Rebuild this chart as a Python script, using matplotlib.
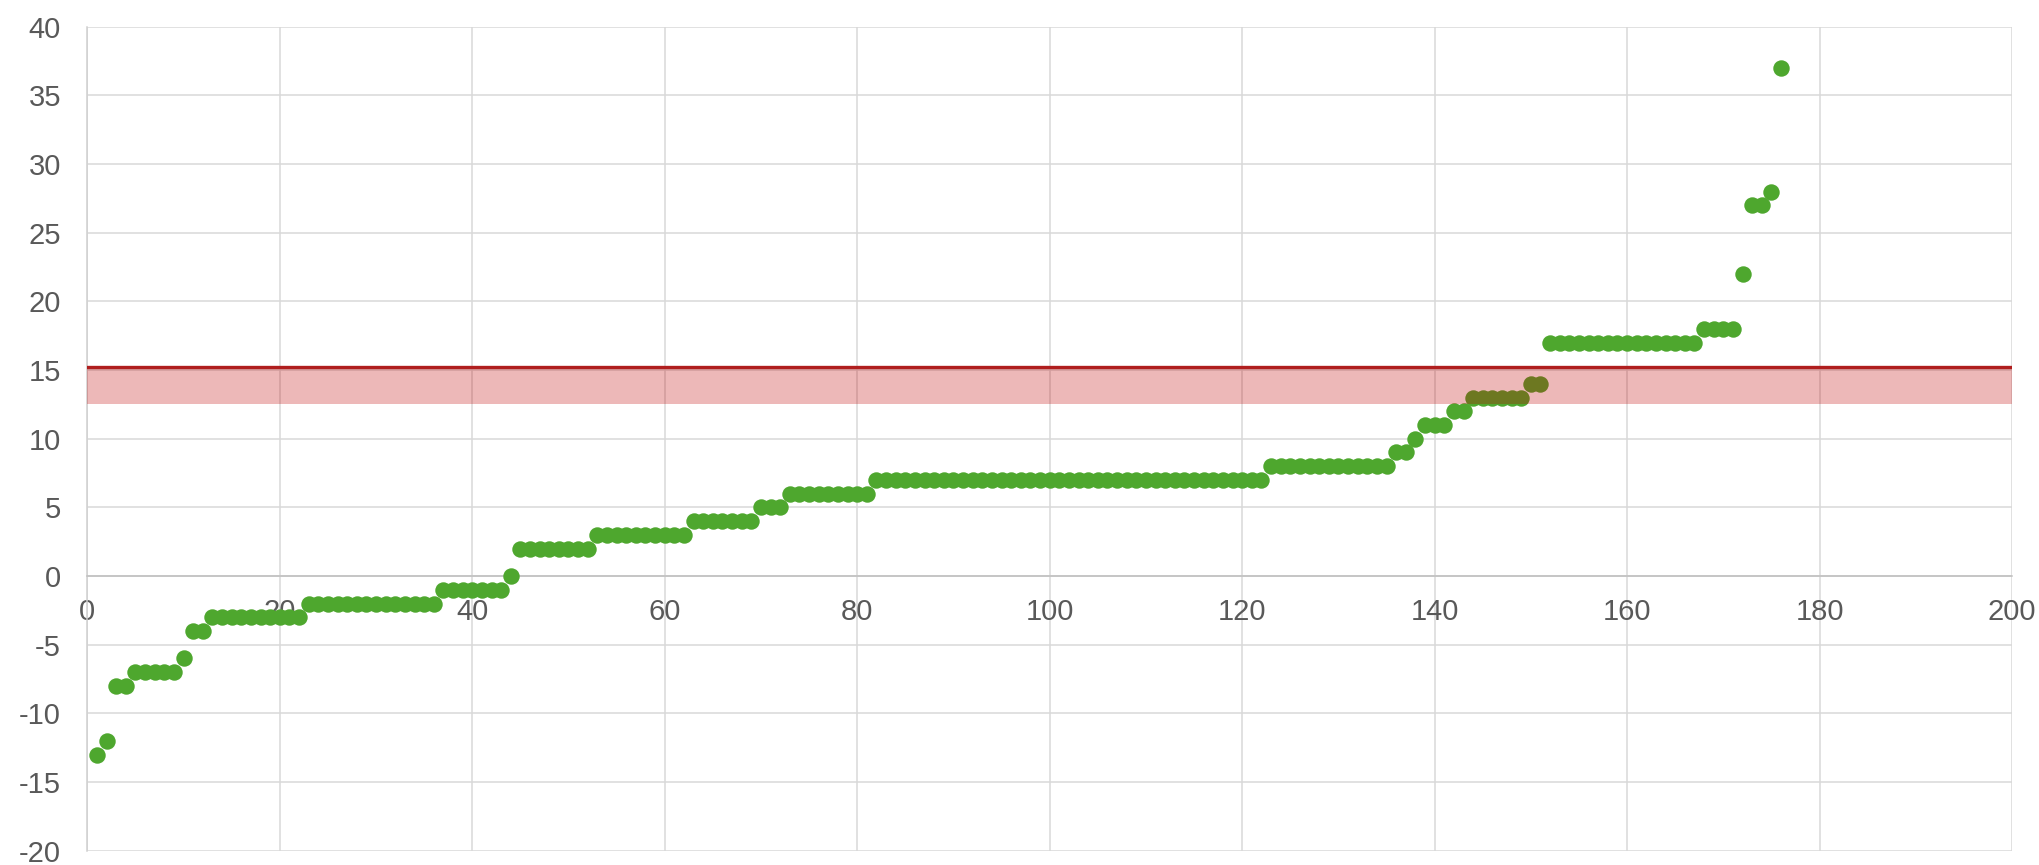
import numpy as np
import matplotlib
matplotlib.use("Agg")
import matplotlib.pyplot as plt

# sorted scores, one per item (x = rank 1..176)
scores = [
    -13, -12, -8, -8, -7, -7, -7, -7, -7, -6,
    -4, -4,
    -3, -3, -3, -3, -3, -3, -3, -3, -3, -3,
    -2, -2, -2, -2, -2, -2, -2, -2, -2, -2, -2, -2, -2, -2,
    -1, -1, -1, -1, -1, -1, -1, 0,
    2, 2, 2, 2, 2, 2, 2, 2,
    3, 3, 3, 3, 3, 3, 3, 3, 3, 3,
    4, 4, 4, 4, 4, 4, 4,
    5, 5, 5,
    6, 6, 6, 6, 6, 6, 6, 6, 6,
    7, 7, 7, 7, 7, 7, 7, 7, 7, 7, 7, 7, 7, 7, 7, 7, 7, 7, 7, 7,
    7, 7, 7, 7, 7, 7, 7, 7, 7, 7, 7, 7, 7, 7, 7, 7, 7, 7, 7, 7, 7,
    8, 8, 8, 8, 8, 8, 8, 8, 8, 8, 8, 8, 8,
    9, 9, 10, 11, 11, 11, 12, 12,
    13, 13, 13, 13, 13, 13, 14, 14,
    17, 17, 17, 17, 17, 17, 17, 17, 17, 17, 17, 17, 17, 17, 17, 17,
    18, 18, 18, 18,
    22, 27, 27, 28, 37,
]
threshold = 15.25
band_low = 12.55

x_ticks = list(range(0, 201, 20))
y_ticks = list(range(-20, 41, 5))

plt.rcParams['font.family'] = ['Liberation Sans', 'DejaVu Sans']
plt.rcParams['axes.unicode_minus'] = False

fig = plt.figure(figsize=(20.4, 8.65), dpi=100)
ax = fig.add_axes([0.0428, 0.0165, 0.9435, 0.9526])

x = np.arange(1, len(scores) + 1)
ax.scatter(x, scores, s=140, color='#4EA72E', linewidths=0, zorder=3)

# band drawn over the points, so points inside it turn olive
ax.axhspan(band_low, threshold, color='#C00000', alpha=0.28, linewidth=0, zorder=4)
ax.axhline(threshold, color='#B01E1E', linewidth=2.4, zorder=5)

ax.set_xlim(0, 200)
ax.set_ylim(-20, 40)
ax.set_xticks(x_ticks)
ax.set_yticks(y_ticks)
ax.grid(True, color='#d9d9d9', linewidth=1.1, zorder=0)
ax.set_axisbelow(True)

for side in ['top', 'right']:
    ax.spines[side].set_visible(False)
ax.spines['left'].set_color('#d0d0d0')
ax.spines['left'].set_linewidth(1.1)
ax.spines['bottom'].set_position(('data', 0))
ax.spines['bottom'].set_color('#bfbfbf')
ax.spines['bottom'].set_linewidth(1.1)

ax.tick_params(axis='x', length=0, pad=16, labelsize=21, labelcolor='#595959')
ax.tick_params(axis='y', length=0, pad=19, labelsize=21, labelcolor='#595959')

fig.savefig('out.png', dpi=100, facecolor='white')
